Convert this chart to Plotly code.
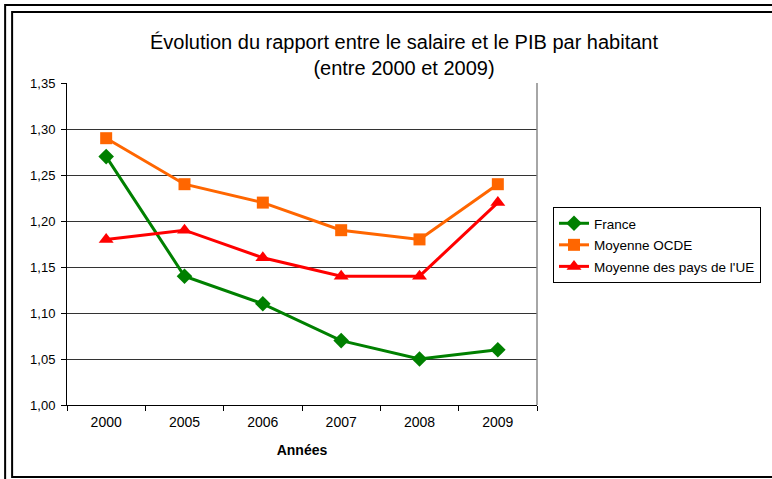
import plotly.graph_objects as go

years = ["2000", "2005", "2006", "2007", "2008", "2009"]
france = [1.27, 1.14, 1.11, 1.07, 1.05, 1.06]
ocde = [1.29, 1.24, 1.22, 1.19, 1.18, 1.24]
ue = [1.18, 1.19, 1.16, 1.14, 1.14, 1.22]
y_ticks = [1.00, 1.05, 1.10, 1.15, 1.20, 1.25, 1.30, 1.35]

W, H = 772, 479
L, R, T, B = 67, 538, 83, 405

def px(x):
    return (x - L) / (R - L)

def py(y):
    return (B - y) / (B - T)

fig = go.Figure()
fig.add_trace(go.Scatter(x=years, y=france, name="France", mode="lines+markers",
                         legendgroup="a",
                         line=dict(color="#008000", width=3),
                         marker=dict(symbol="diamond", size=12, color="#008000")))
fig.add_trace(go.Scatter(x=years, y=ocde, name="Moyenne OCDE", mode="lines+markers",
                         legendgroup="b",
                         line=dict(color="#FF6600", width=3),
                         marker=dict(symbol="square", size=12, color="#FF6600")))
fig.add_trace(go.Scatter(x=years, y=ue, name="Moyenne des pays de l'UE", mode="lines+markers",
                         legendgroup="c",
                         line=dict(color="#FF0000", width=3),
                         marker=dict(symbol="triangle-up", size=13, color="#FF0000")))

shapes = [
    dict(type="rect", xref="paper", yref="paper", x0=px(5), x1=px(790), y0=py(5), y1=py(495),
         line=dict(color="black", width=2), layer="below"),
    dict(type="rect", xref="paper", yref="paper", x0=px(12), x1=px(790), y0=py(12), y1=py(477),
         line=dict(color="black", width=2), layer="below"),
    dict(type="line", xref="paper", yref="paper", x0=1, x1=1, y0=0, y1=1,
         line=dict(color="#888888", width=1.5)),
]

fig.update_layout(
    width=W, height=H,
    margin=dict(l=L, r=W - R, t=T, b=H - B),
    paper_bgcolor="white", plot_bgcolor="white",
    separators=", ",
    font=dict(family="Liberation Sans, Arial, sans-serif", color="black", size=13),
    title=dict(text="Évolution du rapport entre le salaire et le PIB par habitant<br>(entre 2000 et 2009)",
               x=404 / W, xanchor="center", y=1 - 49 / H, yanchor="middle", yref="container",
               font=dict(size=20, color="black")),
    shapes=shapes,
    showlegend=True,
    legend=dict(x=px(553), xanchor="left", y=py(207), yanchor="top",
                bordercolor="black", borderwidth=1, bgcolor="white",
                font=dict(size=13.5), tracegroupgap=1),
    xaxis=dict(type="category", range=[-0.5, 5.5], showline=True, linecolor="black", linewidth=1,
               ticks="outside", tickson="boundaries", ticklen=5, tickcolor="black",
               showgrid=False, tickfont=dict(size=14), ticklabelstandoff=4,
               title=dict(text="<b>Années</b>", font=dict(size=14), standoff=16)),
    yaxis=dict(range=[1.0, 1.35], tickvals=y_ticks, tickformat=".2f",
               showline=True, linecolor="black", linewidth=1,
               ticks="outside", ticklen=5, tickcolor="black",
               showgrid=True, gridcolor="#333333", gridwidth=1,
               zeroline=False, tickfont=dict(size=13), ticklabelstandoff=3),
)

fig.write_html("out.html", config={"displayModeBar": False},
               post_script="document.body.style.margin='0';document.body.style.overflow='hidden';")
